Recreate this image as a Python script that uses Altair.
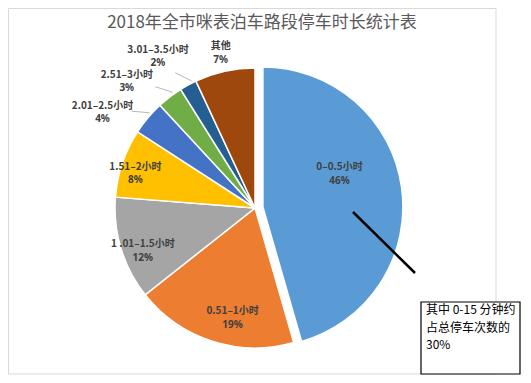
import altair as alt
import pandas as pd

# ---- data ----
categories = ["0–0.5小时", "0.51–1小时", "1 .01–1.5小时", "1.51–2小时",
              "2.01–2.5小时", "2.51–3小时", "3.01–3.5小时", "其他"]
values = [46, 19, 12, 8, 4, 3, 2, 7]
colors = ["#5B9BD5", "#ED7D31", "#A5A5A5", "#FFC000",
          "#4472C4", "#70AD47", "#255E91", "#9E480E"]
title_text = "2018年全市咪表泊车路段停车时长统计表"
note_text = "其中 0-15 分钟约\n占总停车次数的\n30%"

df = pd.DataFrame({"category": categories, "value": values,
                   "order": list(range(len(categories)))})

# ---- layout ----
W, H = 515, 337
PAD_TOP = 30
CX, CY, R = 247, 170, 140
EXPLODE = 8
FONT = "Noto Sans CJK SC"
LINE_GAP = 13.6

base = alt.Chart(df).transform_joinaggregate(
    total="sum(value)"
).transform_window(
    cum="sum(value)", sort=[alt.SortField("order")], frame=[None, 0]
).transform_calculate(
    a0="(datum.cum - datum.value) / datum.total * 2 * PI",
    a1="datum.cum / datum.total * 2 * PI",
    mid="(datum.a0 + datum.a1) / 2",
    middeg="datum.mid * 180 / PI",
    ex=f"datum.order == 0 ? {EXPLODE} : 0",
    cx=f"{CX} + datum.ex * sin(datum.mid)",
    cy=f"{CY} - datum.ex * cos(datum.mid)",
    inside="datum.value >= 8",
    # label angle (deg) and radius: inside labels within the slice,
    # small slices outside, pushed counter-clockwise to avoid crowding
    ladeg="datum.inside ? datum.middeg - datum.value / 3 : datum.middeg - 8 + clamp((datum.middeg - 325) * 0.6, 0, 8)",
    lr=f"datum.inside ? {R} * (0.95 - datum.value / 130) : (datum.value < 5 ? {R} + 40 : {R} + 19)",
    lx="datum.cx + datum.lr * sin(datum.ladeg * PI / 180)",
    ly="datum.cy - datum.lr * cos(datum.ladeg * PI / 180)",
    pct="datum.value + '%'",
    sx=f"datum.cx + ({R} + 17) * sin(datum.mid - 2 * PI / 180)",
    sy=f"datum.cy - ({R} + 17) * cos(datum.mid - 2 * PI / 180)",
    ex2=f"datum.cx + ({R} + 2) * sin(datum.mid + 2 * PI / 180)",
    ey2=f"datum.cy - ({R} + 2) * cos(datum.mid + 2 * PI / 180)",
)

arcs = base.mark_arc(outerRadius=R, stroke="white", strokeWidth=1.5).encode(
    theta=alt.Theta("a0:Q", scale=None),
    theta2="a1:Q",
    x=alt.X("cx:Q", scale=None, axis=None),
    y=alt.Y("cy:Q", scale=None, axis=None),
    color=alt.Color("category:N", scale=alt.Scale(domain=categories, range=colors), legend=None),
)

cat_labels = base.mark_text(font=FONT, fontSize=10, fontWeight="bold", color="#404040",
                            align="center", baseline="middle", dy=-LINE_GAP / 2).encode(
    x=alt.X("lx:Q", scale=None, axis=None),
    y=alt.Y("ly:Q", scale=None, axis=None),
    text="category:N",
)

pct_labels = base.mark_text(font="Noto Sans", fontSize=10, fontWeight="bold", color="#404040",
                            align="center", baseline="middle", dy=LINE_GAP / 2).encode(
    x=alt.X("lx:Q", scale=None, axis=None),
    y=alt.Y("ly:Q", scale=None, axis=None),
    text="pct:N",
)

leaders = base.transform_filter("datum.value < 5").mark_rule(color="#A6A6A6", strokeWidth=0.8).encode(
    x=alt.X("sx:Q", scale=None, axis=None),
    y=alt.Y("sy:Q", scale=None, axis=None),
    x2="ex2:Q",
    y2="ey2:Q",
)

one = alt.Data(values=[{}])

border = alt.Chart(one).mark_rect(fill=None, stroke="#D9D9D9", strokeWidth=1).encode(
    x=alt.value(0.5), x2=alt.value(488), y=alt.value(-29.5), y2=alt.value(336)
)

title = alt.Chart(one).mark_text(font=FONT, fontSize=17, color="#595959",
                                 align="center", baseline="middle").encode(
    x=alt.value(254), y=alt.value(-15), text=alt.value(title_text)
)

pointer = alt.Chart(one).mark_rule(color="black", strokeWidth=2.5).encode(
    x=alt.value(345), y=alt.value(174), x2=alt.value(407), y2=alt.value(235)
)

box = alt.Chart(one).mark_rect(fill="white", stroke="black", strokeWidth=1.2).encode(
    x=alt.value(413), x2=alt.value(512), y=alt.value(264), y2=alt.value(336)
)

note = alt.Chart(one).mark_text(font=FONT, fontSize=12, color="black", lineBreak="\n",
                                lineHeight=17.5, align="left", baseline="top").encode(
    x=alt.value(418), y=alt.value(267), text=alt.value(note_text)
)

chart = alt.layer(border, arcs, leaders, cat_labels, pct_labels, title, pointer, box, note).properties(
    width=W, height=H,
    autosize=alt.AutoSizeParams(type="none"),
    padding={"left": 0, "right": 0, "top": PAD_TOP, "bottom": 0},
).configure_view(stroke=None)

chart.save("out.html", embed_options={"renderer": "svg", "actions": False})
